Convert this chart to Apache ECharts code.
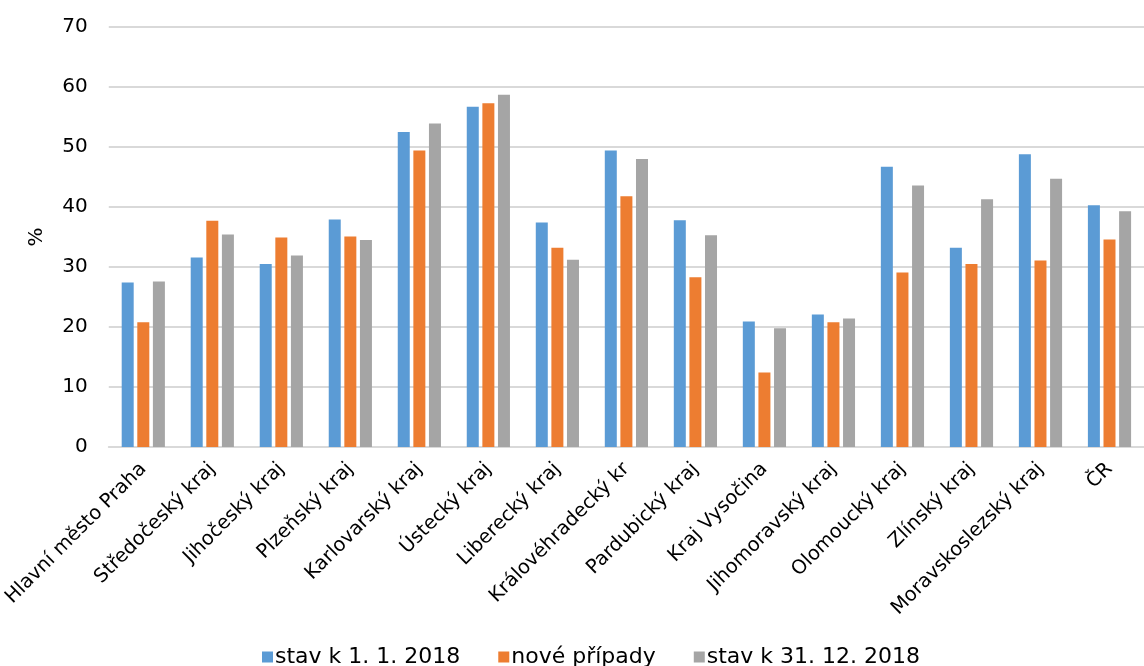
<!DOCTYPE html>
<html>
<head>
<meta charset="utf-8">
<script src="https://cdn.jsdelivr.net/npm/echarts@6/dist/echarts.min.js"></script>
<style>html,body{margin:0;padding:0;background:#fff}#c{width:1144px;height:666px}</style>
</head>
<body>
<div id="c"></div>
<script>
var categories = ["Hlavní město Praha","Středočeský kraj","Jihočeský kraj","Plzeňský kraj","Karlovarský kraj","Ústecký kraj","Liberecký kraj","Královéhradecký kr","Pardubický kraj","Kraj Vysočina","Jihomoravský kraj","Olomoucký kraj","Zlínský kraj","Moravskoslezský kraj","ČR"];
var stav2018start = [27.4,31.6,30.5,37.9,52.5,56.7,37.4,49.4,37.8,20.9,22.1,46.7,33.2,48.8,40.3];
var noveEntries = [20.8,37.7,34.9,35.1,49.4,57.3,33.2,41.8,28.3,12.4,20.8,29.1,30.5,31.1,34.6];
var stav2018end = [27.6,35.4,31.9,34.5,53.9,58.7,31.2,48.0,35.3,19.8,21.4,43.6,41.3,44.7,39.3];
var seriesNames = ["stav k 1. 1. 2018","nové případy","stav k 31. 12. 2018"];

var font = "DejaVu Sans";
var chart = echarts.init(document.getElementById('c'));
function bar(name, data, color){
  return {name:name,type:'bar',data:data,barWidth:12,barGap:'30%',
    itemStyle:{color:color},emphasis:{disabled:true}};
}
chart.setOption({
  animation:false,
  textStyle:{fontFamily:font},
  grid:{left:108,right:-10,top:27,bottom:219,containLabel:false},
  legend:{bottom:-7,left:257,itemWidth:11,itemHeight:11,itemGap:38,icon:'rect',
    textStyle:{fontFamily:font,fontSize:22,color:'#000',padding:[0,0,0,-3]},
    data:seriesNames},
  xAxis:{type:'category',data:categories,
    axisLine:{lineStyle:{color:'#d9d9d9',width:2}},axisTick:{show:false},
    axisLabel:{rotate:45,fontFamily:font,fontSize:19.5,color:'#000',margin:19,interval:0}},
  yAxis:{type:'value',min:0,max:70,interval:10,name:'%',nameLocation:'middle',nameGap:62,
    nameRotate:90,nameTextStyle:{fontFamily:font,fontSize:20,color:'#000'},
    axisLine:{show:false},axisTick:{show:false},
    splitLine:{lineStyle:{color:'#d9d9d9',width:2}},
    axisLabel:{fontFamily:font,fontSize:20,color:'#000',margin:21}},
  series:[bar(seriesNames[0],stav2018start,'#5b9bd5'),bar(seriesNames[1],noveEntries,'#ed7d31'),bar(seriesNames[2],stav2018end,'#a5a5a5')]
});
</script>
</body>
</html>
